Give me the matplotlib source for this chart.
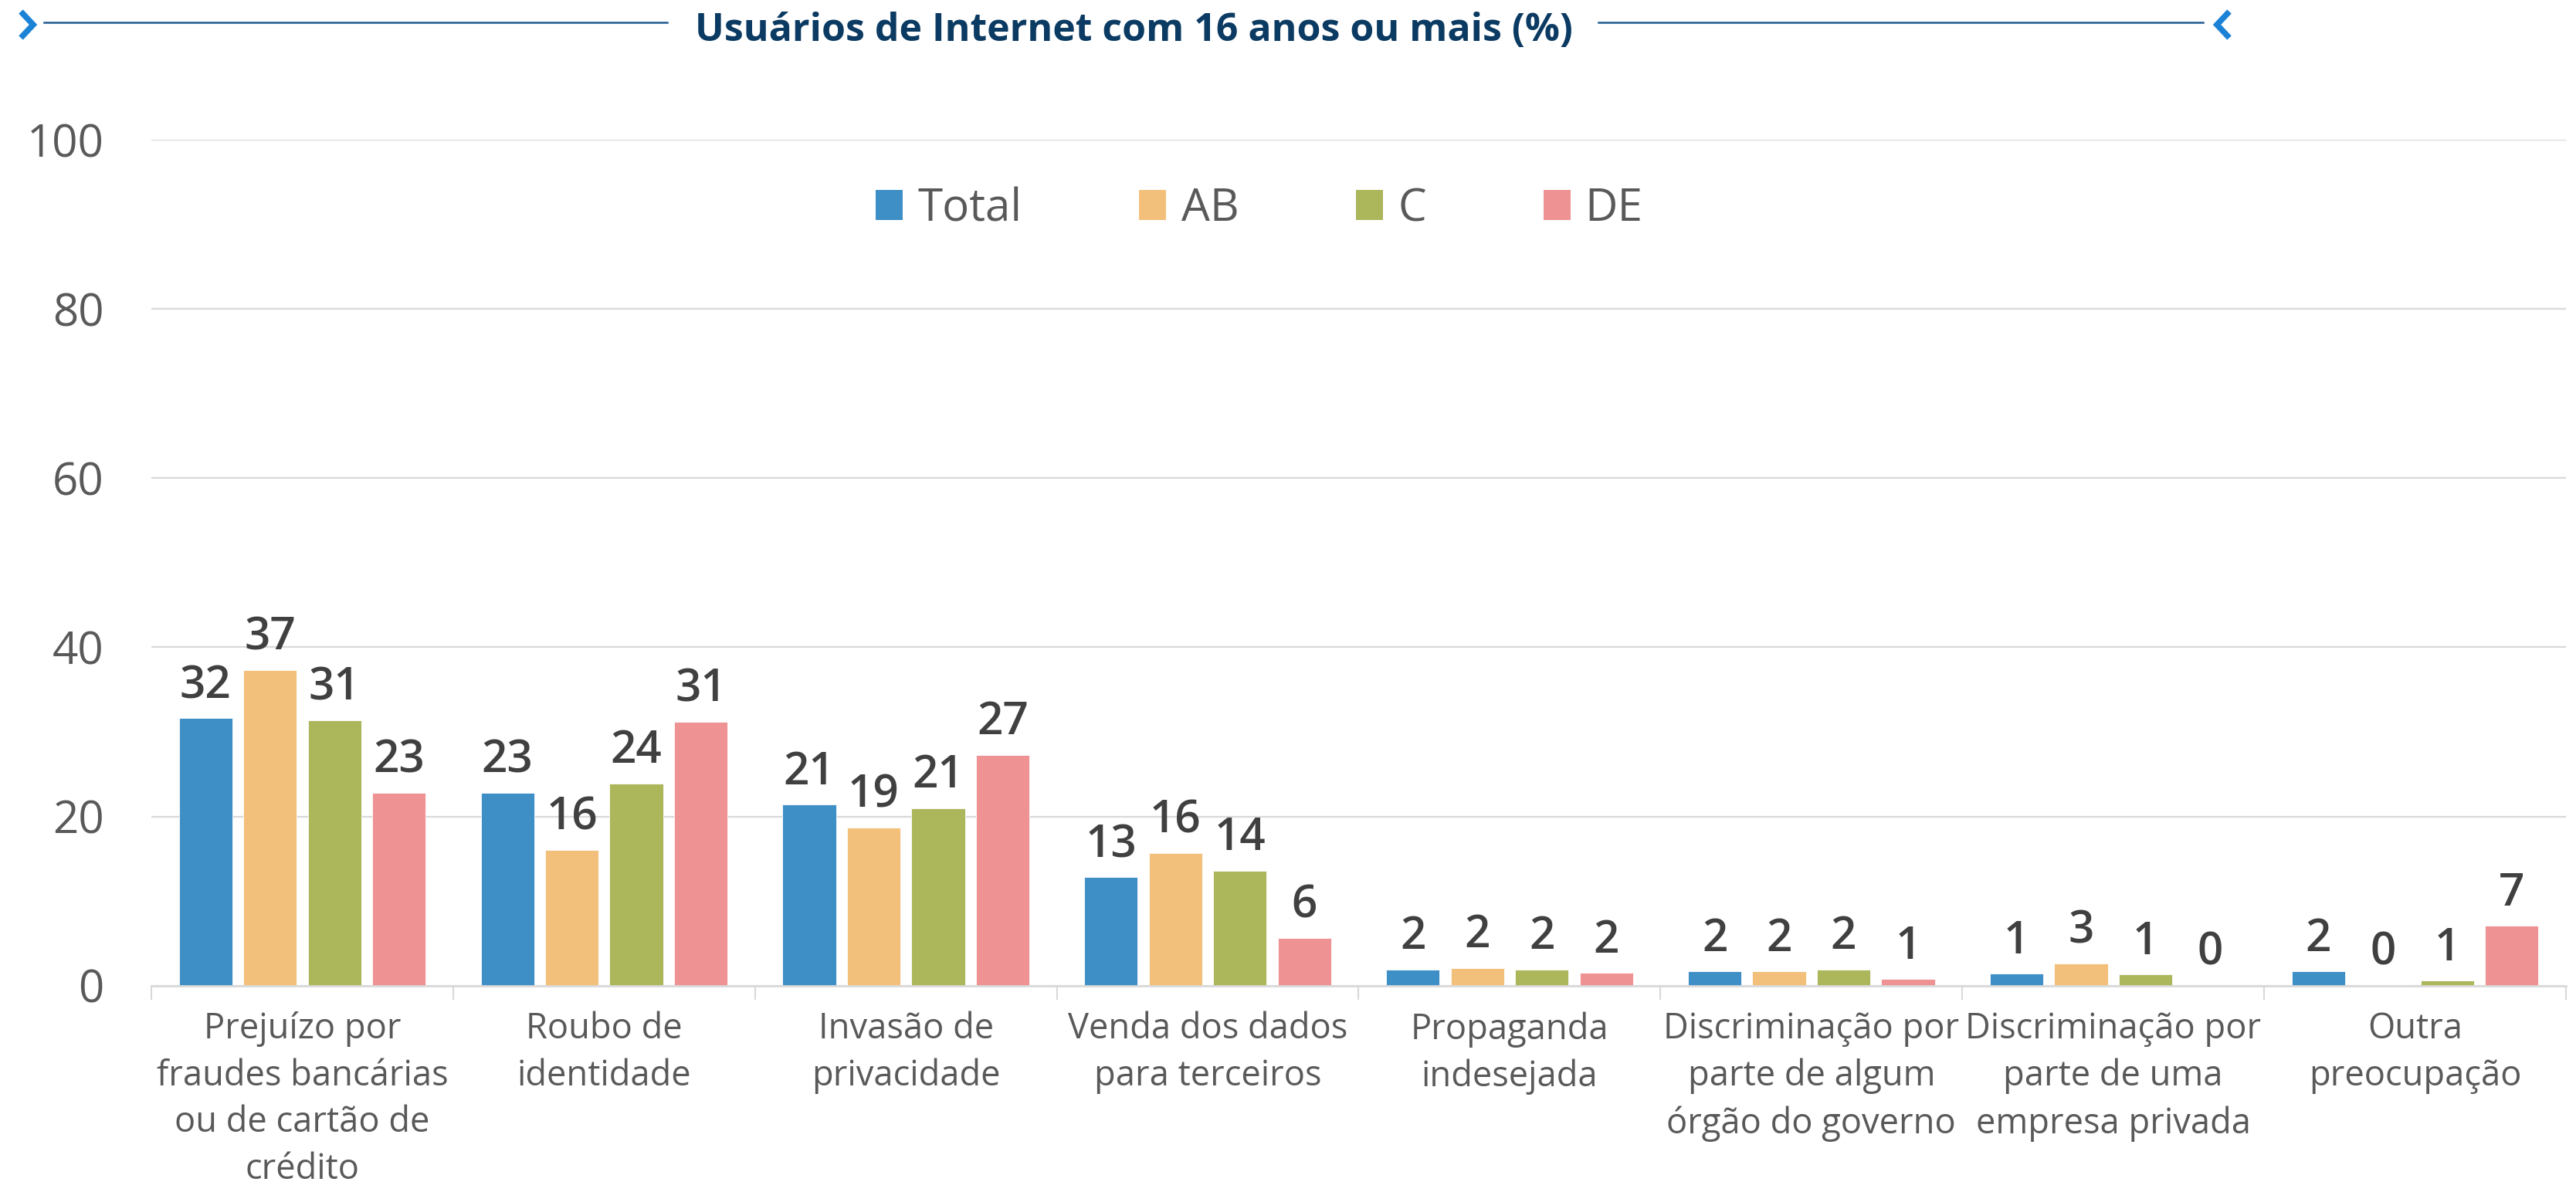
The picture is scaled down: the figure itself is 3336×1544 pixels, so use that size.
import matplotlib
matplotlib.use("Agg")
import matplotlib.pyplot as plt
from matplotlib.lines import Line2D
import numpy as np

plt.rcParams['font.family'] = ['Open Sans', 'DejaVu Sans']

categories = [
    "Prejuízo por\nfraudes bancárias\nou de cartão de\ncrédito",
    "Roubo de\nidentidade",
    "Invasão de\nprivacidade",
    "Venda dos dados\npara terceiros",
    "Propaganda\nindesejada",
    "Discriminação por\nparte de algum\nórgão do governo",
    "Discriminação por\nparte de uma\nempresa privada",
    "Outra\npreocupação",
]
series_names = ["Total", "AB", "C", "DE"]
total = [31.6, 22.8, 21.4, 12.8, 1.9, 1.7, 1.4, 1.7]
ab    = [37.3, 16.0, 18.7, 15.7, 2.1, 1.7, 2.6, 0.1]
c     = [31.4, 23.9, 21.0, 13.6, 1.9, 1.9, 1.3, 0.6]
de    = [22.8, 31.2, 27.3, 5.6, 1.5, 0.8, 0.1, 7.1]
labels_total = ["32", "23", "21", "13", "2", "2", "1", "2"]
labels_ab    = ["37", "16", "19", "16", "2", "2", "3", "0"]
labels_c     = ["31", "24", "21", "14", "2", "2", "1", "1"]
labels_de    = ["23", "31", "27", "6", "2", "1", "0", "7"]
yticks = [0, 20, 40, 60, 80, 100]
title = "Usuários de Internet com 16 anos ou mais (%)"

colors = ["#3F8FC7", "#F3C07B", "#ACB65B", "#EE9293"]
values = [total, ab, c, de]
value_labels = [labels_total, labels_ab, labels_c, labels_de]

W, H = 3336, 1544
fig = plt.figure(figsize=(W / 100, H / 100), dpi=100)
ax = fig.add_axes([196 / W, 1 - 1276.7 / H, (3323 - 196) / W, (1276.7 - 181) / H])

x = np.arange(len(categories))
bw = 0.177
step = 0.2135
for i, (vals, lbls, col, name) in enumerate(zip(values, value_labels, colors, series_names)):
    xs = x + (i - 1.5) * step
    ax.bar(xs, vals, width=bw, color=col, label=name, zorder=3,
           edgecolor='white', linewidth=0.6)
    for xi, v, t in zip(xs, vals, lbls):
        ax.annotate(t, (xi, v), xytext=(0, 19), textcoords='offset points',
                    ha='center', va='baseline', fontsize=42, fontweight='semibold',
                    color='#404040', zorder=4)

ax.set_xlim(-0.5, len(categories) - 0.5)
ax.set_ylim(0, 100)
ax.set_yticks(yticks)
ax.set_yticklabels([str(t) for t in yticks], fontsize=42, color='#595959')
ax.tick_params(axis='y', length=0, pad=44)
ax.yaxis.grid(True, color='#D9D9D9', linewidth=1.6, zorder=0)
ax.set_axisbelow(True)

ax.set_xticks(x)
ax.set_xticklabels(categories, fontsize=32.6, color='#595959', linespacing=1.42)
ax.tick_params(axis='x', which='major', length=0, pad=24)
ax.set_xticks(np.arange(len(categories) + 1) - 0.5, minor=True)
ax.tick_params(axis='x', which='minor', length=13, width=1.5, color='#D9D9D9')

for s in ['top', 'right', 'left']:
    ax.spines[s].set_visible(False)
ax.spines['bottom'].set_color('#D9D9D9')
ax.spines['bottom'].set_linewidth(2)
ax.spines['bottom'].set_zorder(5)

leg = fig.legend(loc='center', bbox_to_anchor=(1631 / W, 1 - 271 / H), ncol=4,
                 frameon=False, fontsize=42, handlelength=0.6, handleheight=0.64,
                 handletextpad=0.33, columnspacing=2.6, labelcolor='#595959')
for h in leg.legend_handles:
    h.set_edgecolor('none')

# Title with decorative lines and chevrons
fig.text(1468 / W, 1 - 40 / H, title, ha='center', va='center', fontsize=36,
         fontweight='bold', color='#0B3A62')
ly = 1 - 29 / H
fig.add_artist(Line2D([57 / W, 864 / W], [ly, ly], color='#1F5B8E', linewidth=1.8))
fig.add_artist(Line2D([2070 / W, 2853 / W], [ly, ly], color='#1F5B8E', linewidth=1.8))
fig.add_artist(Line2D([27 / W, 43 / W, 27 / W], [1 - 15 / H, 1 - 32 / H, 1 - 49 / H],
                      color='#1B82D6', linewidth=5.5, solid_capstyle='butt',
                      solid_joinstyle='miter'))
fig.add_artist(Line2D([2887 / W, 2871 / W, 2887 / W], [1 - 15 / H, 1 - 32 / H, 1 - 49 / H],
                      color='#1B82D6', linewidth=5.5, solid_capstyle='butt',
                      solid_joinstyle='miter'))

fig.savefig("out.png", dpi=100, facecolor='white')
